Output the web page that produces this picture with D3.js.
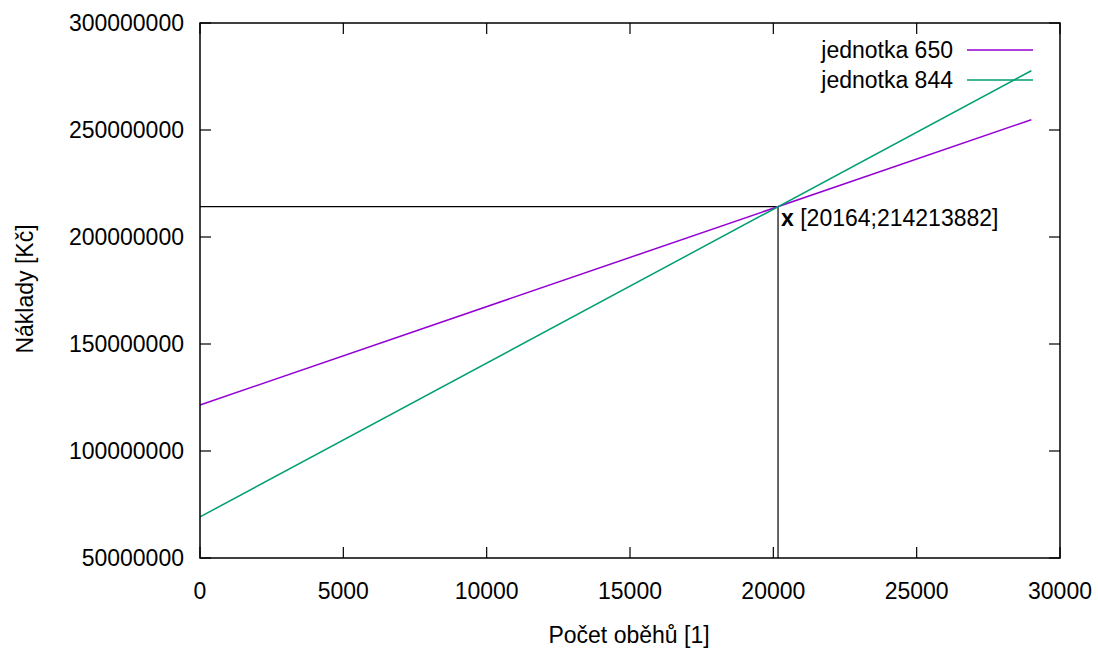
<!DOCTYPE html>
<html>
<head>
<meta charset="utf-8">
<script src="https://cdn.jsdelivr.net/npm/d3@7"></script>
<style>
  body { margin: 0; background: #fff; }
  svg text { font-family: 'Liberation Sans', Arial, sans-serif; fill: #000; }
</style>
</head>
<body>
<svg id="chart" width="1098" height="648"></svg>
<script>
// data
const runs = [0, 29000];
const cost650 = [121500000, 254800000];
const cost844 = [69200000, 277700000];
const breakEven = { x: 20164, y: 214213882 };
const seriesNames = ['jednotka 650', 'jednotka 844'];
const seriesColors = ['#9400d3', '#009e73'];
const xTicks = [0, 5000, 10000, 15000, 20000, 25000, 30000];
const yTicks = [50000000, 100000000, 150000000, 200000000, 250000000, 300000000];

const svg = d3.select('#chart');
const m = { left: 200, right: 1060, top: 23, bottom: 558 };
const fs = 23;

const x = d3.scaleLinear().domain([0, 30000]).range([m.left, m.right]);
const y = d3.scaleLinear().domain([50000000, 300000000]).range([m.bottom, m.top]);

// ticks (inside, mirrored)
const tl = 11;
const g = svg.append('g').attr('stroke', '#000').attr('stroke-width', 1.2);
xTicks.forEach((t) => {
  g.append('line').attr('x1', x(t)).attr('x2', x(t)).attr('y1', m.bottom).attr('y2', m.bottom - tl);
  g.append('line').attr('x1', x(t)).attr('x2', x(t)).attr('y1', m.top).attr('y2', m.top + tl);
});
yTicks.forEach((t) => {
  g.append('line').attr('x1', m.left).attr('x2', m.left + tl).attr('y1', y(t)).attr('y2', y(t));
  g.append('line').attr('x1', m.right).attr('x2', m.right - tl).attr('y1', y(t)).attr('y2', y(t));
});

svg.append('g').selectAll('text').data(xTicks).join('text')
  .attr('x', (d) => x(d)).attr('y', 599).attr('text-anchor', 'middle')
  .style('font-size', fs + 'px').text((d) => d);
svg.append('g').selectAll('text').data(yTicks).join('text')
  .attr('x', 184).attr('y', (d) => y(d) + 8).attr('text-anchor', 'end')
  .style('font-size', fs + 'px').text((d) => d);

// break-even guides
const bx = x(breakEven.x), by = y(breakEven.y);
svg.append('line').attr('x1', m.left).attr('x2', bx).attr('y1', by).attr('y2', by)
  .attr('stroke', '#000').attr('stroke-width', 1.2);
svg.append('line').attr('x1', bx).attr('x2', bx).attr('y1', by).attr('y2', m.bottom)
  .attr('stroke', '#000').attr('stroke-width', 1.2);

// series
const line = d3.line().x((d) => x(d[0])).y((d) => y(d[1]));
[cost650, cost844].forEach((vals, i) => {
  svg.append('path').datum(runs.map((r, j) => [r, vals[j]]))
    .attr('d', line).attr('fill', 'none')
    .attr('stroke', seriesColors[i]).attr('stroke-width', 1.5);
});

// label at crossing
const lab = svg.append('text').attr('x', bx + 3).attr('y', by + 19).style('font-size', fs + 'px');
lab.append('tspan').style('font-weight', 'bold').text('x');
lab.append('tspan').text(' [' + breakEven.x + ';' + breakEven.y + ']');

// legend
seriesNames.forEach((n, i) => {
  const ly = 50 + i * 30;
  svg.append('text').attr('x', 953).attr('y', ly + 8).attr('text-anchor', 'end')
    .style('font-size', fs + 'px').text(n);
  svg.append('line').attr('x1', 967).attr('x2', 1033).attr('y1', ly).attr('y2', ly)
    .attr('stroke', seriesColors[i]).attr('stroke-width', 1.5);
});

// frame
svg.append('rect').attr('x', m.left).attr('y', m.top)
  .attr('width', m.right - m.left).attr('height', m.bottom - m.top)
  .attr('fill', 'none').attr('stroke', '#000').attr('stroke-width', 1.5);

// axis titles
svg.append('text').attr('x', 629).attr('y', 643).attr('text-anchor', 'middle')
  .style('font-size', fs + 'px').text('Počet oběhů [1]');
svg.append('text').attr('transform', 'translate(33,289) rotate(-90)').attr('text-anchor', 'middle')
  .style('font-size', fs + 'px').text('Náklady [Kč]');
</script>
</body>
</html>
